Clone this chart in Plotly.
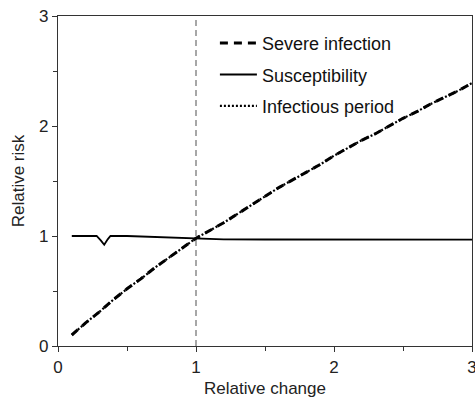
import plotly.graph_objects as go

# Relative change (x) and relative risk (y)
x_vals = [0.1, 0.2, 0.3, 0.4, 0.5, 0.6, 0.7, 0.8, 0.9, 1.0,
          1.1, 1.2, 1.3, 1.4, 1.5, 1.6, 1.7, 1.8, 1.9, 2.0,
          2.1, 2.2, 2.3, 2.4, 2.5, 2.6, 2.7, 2.8, 2.9, 3.0]
severe_infection = [0.10, 0.21, 0.31, 0.42, 0.52, 0.61, 0.71, 0.80, 0.89, 0.98,
                    1.05, 1.12, 1.20, 1.28, 1.36, 1.44, 1.51, 1.58, 1.65, 1.73,
                    1.80, 1.87, 1.93, 2.00, 2.07, 2.13, 2.20, 2.26, 2.32, 2.39]
infectious_period = [0.10, 0.21, 0.31, 0.42, 0.52, 0.61, 0.71, 0.80, 0.89, 0.98,
                     1.05, 1.12, 1.20, 1.28, 1.36, 1.44, 1.51, 1.58, 1.65, 1.73,
                     1.80, 1.87, 1.93, 2.00, 2.07, 2.13, 2.20, 2.26, 2.32, 2.39]

x_susc = [0.1, 0.2, 0.28, 0.31, 0.335, 0.36, 0.38, 0.5, 0.7, 1.0, 1.2, 1.5, 2.0, 3.0]
susceptibility = [1.0, 1.0, 1.0, 0.96, 0.92, 0.97, 1.0, 1.0, 0.99, 0.975, 0.97, 0.968, 0.967, 0.967]

x_ref = [1, 1]
y_ref = [0, 3]

font_family = "Liberation Sans, Arial, sans-serif"

fig = go.Figure()
fig.add_trace(go.Scatter(x=x_ref, y=y_ref, mode="lines", showlegend=False,
                         line=dict(color="#8a8a8a", width=1.5, dash="6px,4px"),
                         hoverinfo="skip"))
fig.add_trace(go.Scatter(x=x_vals, y=severe_infection, mode="lines", name="Severe infection",
                         legendgroup="a",
                         line=dict(color="black", width=3, dash="8px,6px")))
fig.add_trace(go.Scatter(x=x_susc, y=susceptibility, mode="lines", name="Susceptibility",
                         legendgroup="b",
                         line=dict(color="black", width=1.8)))
fig.add_trace(go.Scatter(x=x_vals, y=infectious_period, mode="lines", name="Infectious period",
                         legendgroup="c",
                         line=dict(color="black", width=2.2, dash="2px,2px")))

axis_common = dict(
    range=[0, 3], showline=True, linecolor="#333333", linewidth=1.3, mirror=True,
    ticks="outside", ticklen=5, tickcolor="#333333", tickwidth=1.3,
    tickvals=[0, 1, 2, 3], showgrid=False, zeroline=False,
    ticklabeloverflow="allow", automargin=False,
    tickfont=dict(size=17, color="#222222", family=font_family),
    minor=dict(tickvals=[0.5, 1.5, 2.5], ticks="outside", ticklen=4,
               tickcolor="#333333", tickwidth=1.3, showgrid=False),
)

fig.update_layout(
    width=475, height=399,
    margin=dict(l=58, r=3, t=16, b=53),
    paper_bgcolor="white", plot_bgcolor="white",
    font=dict(family=font_family, color="#222222"),
    showlegend=True,
    legend=dict(x=0.379, y=0.973, xanchor="left", yanchor="top",
                bgcolor="rgba(0,0,0,0)", tracegroupgap=5, itemwidth=37,
                font=dict(size=18, color="#111111", family=font_family)),
    xaxis=dict(**axis_common,
               title=dict(text="Relative change", standoff=6,
                          font=dict(size=17, color="#222222", family=font_family))),
    yaxis=dict(**axis_common,
               title=dict(text="Relative risk", standoff=10,
                          font=dict(size=17, color="#222222", family=font_family))),
)

fig.write_html("out.html")
